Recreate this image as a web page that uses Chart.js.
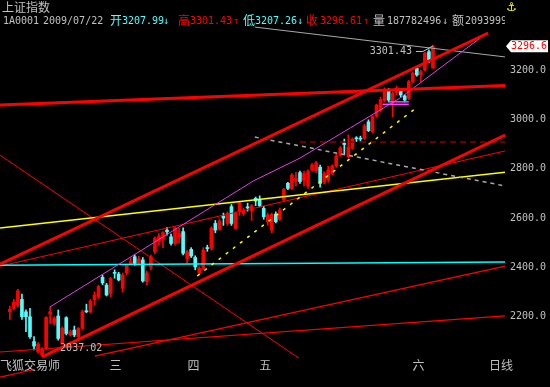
<!DOCTYPE html>
<html>
<head>
<meta charset="utf-8">
<script src="https://cdn.jsdelivr.net/npm/chart.js@4.4.1/dist/chart.umd.min.js"></script>
<style>
  html, body { margin: 0; padding: 0; background: #000; }
</style>
</head>
<body>
<canvas id="chart" width="550" height="387"></canvas>
<script>
// daily bars, index 0..105 (last bar = 2009/07/22)
const opens = [
  2221, 2234, 2247, 2270, 2220, 2200, 2099, 2058, 2045, 2072,
  2211, 2173, 2203, 2092, 2196, 2126, 2146, 2119, 2153, 2224,
  2220, 2268, 2281, 2360, 2328, 2295, 2380, 2373, 2315, 2378,
  2414, 2443, 2417, 2430, 2342, 2402, 2463, 2504, 2514, 2551,
  2524, 2497, 2524, 2545, 2436, 2473, 2440, 2378, 2396, 2480,
  2477, 2578, 2554, 2608, 2578, 2646, 2558, 2626, 2618, 2645,
  2630, 2680, 2676, 2639, 2585, 2551, 2616, 2595, 2673, 2741,
  2720, 2750, 2784, 2753, 2730, 2795, 2792, 2806, 2745, 2755,
  2780, 2811, 2855, 2903, 2849, 2883, 2925, 2924, 2923, 2990,
  2950, 3013, 3038, 3076, 3115, 3071, 3108, 3119, 3095, 3085,
  3153, 3207, 3180, 3200, 3274, 3207.99
];
const closes = [
  2230, 2260, 2305, 2200, 2200, 2119, 2081, 2089, 2068, 2197,
  2220, 2193, 2112, 2153, 2132, 2139, 2126, 2153, 2220, 2220,
  2264, 2288, 2322, 2337, 2288, 2355, 2376, 2349, 2369, 2409,
  2423, 2416, 2434, 2345, 2378, 2443, 2518, 2527, 2541, 2544,
  2497, 2558, 2537, 2457, 2463, 2446, 2402, 2396, 2470, 2476,
  2558, 2551, 2588, 2600, 2619, 2578, 2619, 2662, 2632, 2641,
  2650, 2669, 2649, 2605, 2612, 2615, 2585, 2632, 2716, 2720,
  2774, 2760, 2748, 2780, 2790, 2815, 2824, 2740, 2780, 2795,
  2811, 2851, 2883, 2898, 2887, 2919, 2921, 2920, 2973, 2954,
  3011, 3058, 3081, 3122, 3078, 3105, 3126, 3099, 3078, 3153,
  3187, 3180, 3193, 3268, 3241, 3296.61
];
const highs = [
  2243, 2270, 2311, 2292, 2228, 2234, 2119, 2095, 2075, 2200,
  2240, 2200, 2227, 2159, 2200, 2146, 2162, 2157, 2227, 2251,
  2270, 2301, 2328, 2369, 2335, 2360, 2390, 2380, 2377, 2413,
  2437, 2450, 2445, 2440, 2385, 2450, 2524, 2537, 2545, 2562,
  2535, 2564, 2558, 2560, 2470, 2480, 2447, 2402, 2480, 2490,
  2565, 2590, 2596, 2620, 2625, 2655, 2625, 2665, 2640, 2660,
  2655, 2685, 2690, 2648, 2620, 2620, 2625, 2640, 2720, 2745,
  2780, 2785, 2790, 2790, 2795, 2822, 2830, 2815, 2788, 2810,
  2816, 2860, 2890, 2920, 2937, 2925, 2930, 2932, 2980, 2998,
  3015, 3062, 3090, 3128, 3125, 3110, 3135, 3125, 3100, 3158,
  3192, 3212, 3200, 3272, 3282, 3301.43
];
const lows = [
  2189, 2227, 2238, 2189, 2139, 2112, 2065, 2051, 2037.02, 2065,
  2173, 2166, 2105, 2089, 2126, 2122, 2119, 2112, 2146, 2216,
  2216, 2247, 2274, 2330, 2284, 2280, 2356, 2345, 2300, 2370,
  2410, 2408, 2410, 2340, 2330, 2390, 2456, 2490, 2480, 2530,
  2490, 2490, 2500, 2450, 2416, 2440, 2390, 2370, 2390, 2465,
  2470, 2540, 2550, 2570, 2570, 2570, 2555, 2610, 2610, 2628,
  2590, 2650, 2645, 2595, 2570, 2540, 2580, 2590, 2665, 2715,
  2715, 2730, 2740, 2730, 2720, 2790, 2785, 2725, 2738, 2745,
  2775, 2805, 2850, 2860, 2843, 2878, 2910, 2912, 2918, 2950,
  2945, 3008, 3030, 3070, 3070, 3011, 3100, 3090, 3070, 3080,
  3148, 3175, 3153, 3195, 3230, 3207.26
];
const volume = '187782496';
const amount = '20939993';

const yTicks = [2200, 2400, 2600, 2800, 3000, 3200];
const xTickPos = [5.0, 26.2, 45.6, 63.4, 101.4, 121.9];
const xTickLabels = ['飞狐交易师', '三', '四', '五', '六', '日线'];

// drawn lines as [bar index, price] points (null price = gap)
const upperChannel = [[-2.43, 2413], [118.7, 3350]];
const lowerChannel = [[8, 2037], [122.9, 2936]];
const flatRed = [[-2.43, 3058], [122.9, 3137]];
const grayTop = [[60.8, 3374], [122.9, 3253]];
const magentaLine = [[10, 2240], [60.4, 2750], [72, 2843], [96.8, 3086], [118.4, 3350]];
const yellowLine = [[-2.43, 2560], [122.9, 2786]];
const yellowDash = [[46.5, 2365], [100.8, 3046]];
const grayDash = [[60.8, 2928], [122.9, 2730]];
const darkRedDash = [[72, 2908], [122.9, 2908]];
const redA = [[-2.43, 2405], [122.9, 2872]];
const redB = [[-2.43, 2855], [74.6, 2000]];
const redC = [[-2.43, 2057], [122.9, 2203]];
const redD = [[-2.43, 1955], [5.8, 1985], [10, null], [21.1, 2040], [122.9, 2405]];
const cyanLine = [[-2.43, 2409], [122.9, 2422]];
const boxTop = [[94, 3071], [99, 3071]];
const boxBottom = [[92.5, 3061], [99, 3061]];

const gray = '#c0c0c0';
const red = '#ff0000';
const cyan = '#54fcfc';
const cjk = '12px "Noto Sans CJK SC"';
const mono = '10px "DejaVu Sans Mono"';

const idx = closes.map((c, i) => i);
const candleColors = idx.map(i => closes[i] >= opens[i] ? red : cyan);

function line(points, color, width, dash, extra) {
  return Object.assign({
    type: 'line',
    data: points.map(p => ({ x: p[0], y: p[1] })),
    borderColor: color,
    borderWidth: width,
    borderDash: dash || [],
    pointRadius: 0,
    tension: 0,
    fill: false,
    spanGaps: false,
    order: 0
  }, extra || {});
}

const textPlugin = {
  id: 'texts',
  beforeDraw(chart) {
    const ctx = chart.ctx;
    ctx.save();
    ctx.fillStyle = '#000';
    ctx.fillRect(0, 0, chart.width, chart.height);
    ctx.restore();
  },
  afterDraw(chart) {
    const ctx = chart.ctx;
    const xs = chart.scales.x, ys = chart.scales.y;
    const last = closes.length - 1;
    ctx.save();
    ctx.textBaseline = 'alphabetic';
    ctx.textAlign = 'left';

    ctx.font = cjk;
    ctx.fillStyle = gray;
    ctx.fillText('上证指数', 2, 12);

    ctx.save();
    ctx.beginPath();
    ctx.rect(0, 13, 505, 16);
    ctx.clip();
    const runs = [
      [3, '1A0001', gray, mono], [43, '2009/07/22', gray, mono],
      [110, '开', cyan, cjk], [122, opens[last].toFixed(2), cyan, mono], [163, '↓', cyan, mono],
      [178, '高', red, cjk], [190, highs[last].toFixed(2), red, mono], [233, '↑', red, mono],
      [243, '低', cyan, cjk], [255, lows[last].toFixed(2), cyan, mono], [297, '↓', cyan, mono],
      [306, '收', red, cjk], [320, closes[last].toFixed(2), red, mono], [363, '↑', red, mono],
      [373, '量', gray, cjk], [387, volume, gray, mono], [442, '↓', gray, mono],
      [452, '额', gray, cjk], [465, amount, gray, mono]
    ];
    runs.forEach(r => {
      ctx.font = r[3];
      ctx.fillStyle = r[2];
      ctx.fillText(r[1], r[0], r[3] === cjk ? 25 : 24);
    });
    ctx.restore();

    // anchor icon
    ctx.font = '12px "DejaVu Sans"';
    ctx.fillStyle = '#ffff00';
    ctx.fillText('⚓', 506, 11);

    // highest / lowest marks
    let hi = 0, lo = 0;
    idx.forEach(i => { if (highs[i] > highs[hi]) hi = i; if (lows[i] < lows[lo]) lo = i; });
    const hx = xs.getPixelForValue(hi), hy = ys.getPixelForValue(highs[hi]);
    ctx.font = mono;
    ctx.fillStyle = gray;
    ctx.textAlign = 'right';
    ctx.textBaseline = 'middle';
    ctx.fillText(highs[hi].toFixed(2), hx - 21, hy + 6);
    ctx.strokeStyle = gray;
    ctx.lineWidth = 1;
    ctx.beginPath();
    ctx.moveTo(hx - 17, hy + 6.5);
    ctx.lineTo(hx - 10, hy + 6.5);
    ctx.lineTo(hx, hy + 1);
    ctx.stroke();

    const lx = xs.getPixelForValue(lo), ly = ys.getPixelForValue(lows[lo]);
    ctx.textAlign = 'left';
    ctx.fillText(lows[lo].toFixed(2), lx + 18, ly - 9);

    // last price tag on the axis
    const py = ys.getPixelForValue(closes[last]);
    ctx.fillStyle = '#ffffff';
    ctx.beginPath();
    ctx.moveTo(506, py);
    ctx.lineTo(511, py - 6);
    ctx.lineTo(548, py - 6);
    ctx.lineTo(548, py + 6);
    ctx.lineTo(511, py + 6);
    ctx.closePath();
    ctx.fill();
    ctx.fillStyle = red;
    ctx.fillText(closes[last].toFixed(1), 511, py);
    ctx.restore();
  }
};

const ctx = document.getElementById('chart').getContext('2d');
new Chart(ctx, {
  type: 'bar',
  data: {
    datasets: [
      line(boxTop, '#ff40ff', 1.5),
      line(boxBottom, '#ff40ff', 1.5),
      line(upperChannel, red, 3),
      line(lowerChannel, red, 3),
      line(flatRed, red, 3),
      line(magentaLine, '#e040e0', 1),
      line(yellowDash, '#ffff00', 1.5, [3, 6]),
      line(grayDash, '#a8a8a8', 1.5, [4, 4]),
      line(darkRedDash, '#8c0000', 1.5, [6, 4]),
      line(yellowLine, '#ffff00', 1.5),
      line(cyanLine, '#00ffff', 1.5),
      line(redA, red, 1),
      line(redB, red, 1),
      line(redC, red, 1.2),
      line(redD, red, 1.2, null, { clip: false }),
      line(grayTop, '#a8a8a8', 1),
      {
        type: 'bar',
        data: idx.map(i => ({ x: i, y: [opens[i], closes[i]] })),
        backgroundColor: candleColors,
        barThickness: 3,
        minBarLength: 1,
        grouped: false,
        order: 1
      },
      {
        type: 'bar',
        data: idx.map(i => ({ x: i, y: [lows[i], highs[i]] })),
        backgroundColor: candleColors,
        barThickness: 1,
        grouped: false,
        order: 2
      }
    ]
  },
  options: {
    responsive: false,
    animation: false,
    devicePixelRatio: 1,
    events: [],
    layout: { padding: { top: 26, left: 0, right: 0, bottom: 0 } },
    plugins: { legend: { display: false }, tooltip: { enabled: false } },
    scales: {
      x: {
        type: 'linear',
        min: -2.432,
        max: 122.88,
        offset: false,
        grid: { display: false, drawTicks: false },
        border: { display: false },
        afterBuildTicks: s => { s.ticks = xTickPos.map(v => ({ value: v })); },
        afterFit: s => { s.height = 29; },
        ticks: {
          autoSkip: false,
          maxRotation: 0,
          padding: 0,
          color: gray,
          font: { family: 'Noto Sans CJK SC', size: 12 },
          callback: (v, i) => xTickLabels[i]
        }
      },
      y: {
        position: 'right',
        min: 2032.6,
        max: 3378.4,
        grid: { display: false, drawTicks: false },
        border: { display: false },
        afterBuildTicks: s => { s.ticks = yTicks.map(v => ({ value: v })); },
        afterFit: s => { s.width = 45; },
        ticks: {
          padding: 5,
          color: gray,
          font: { family: 'DejaVu Sans Mono', size: 10 },
          callback: v => v.toFixed(1)
        }
      }
    }
  },
  plugins: [textPlugin]
});
</script>
</body>
</html>
